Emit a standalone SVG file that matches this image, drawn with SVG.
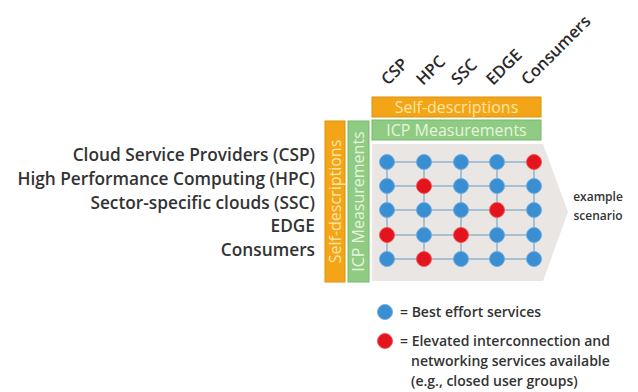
<svg xmlns="http://www.w3.org/2000/svg" width="638" height="392" viewBox="0 0 638 392">
<style>
.lbl{font-family:"Open Sans","Noto Sans",sans-serif;font-size:17.3px;fill:#333;text-anchor:end;font-weight:600}
.hdr{font-family:"Open Sans","Noto Sans",sans-serif;font-size:16.5px;fill:#2a2a2a;font-weight:600}
.bar{font-family:"Open Sans","Noto Sans",sans-serif;font-size:16px;text-anchor:middle}
.or{fill:#F3A517;stroke:#D9920E;stroke-width:1}
.gr{fill:#8FCB82;stroke:#76B96A;stroke-width:1}
.ort{fill:#FFE6A6}
.grt{fill:#E6F4DE}
.b{fill:#3A8ED2;stroke:#6FAEE0;stroke-width:1}
.r{fill:#E3141C;stroke:#F0585C;stroke-width:1}
.ln{stroke:#A8C0D2;stroke-width:2;fill:none}
.leg{font-family:"Open Sans","Noto Sans",sans-serif;font-size:14px;fill:#333;font-weight:600}
.sc{font-family:"Open Sans","Noto Sans",sans-serif;font-size:12px;fill:#333;font-weight:600;text-anchor:middle}
</style>
<rect width="638" height="392" fill="#fff"/>
<g id="row-labels">
<text class="lbl" x="315" y="161">Cloud Service Providers (CSP)</text>
<text class="lbl" x="315" y="185">High Performance Computing (HPC)</text>
<text class="lbl" x="315" y="209">Sector-specific clouds (SSC)</text>
<text class="lbl" x="315" y="232">EDGE</text>
<text class="lbl" x="315" y="256">Consumers</text>
</g>
<g id="col-headers">
<text class="hdr" transform="translate(388,86) rotate(-45)">CSP</text>
<text class="hdr" transform="translate(423,86) rotate(-45)">HPC</text>
<text class="hdr" transform="translate(458,86) rotate(-45)">SSC</text>
<text class="hdr" transform="translate(493,86) rotate(-45)">EDGE</text>
<text class="hdr" transform="translate(528,86) rotate(-45)">Consumers</text>
</g>
<g id="bar-self-h"><rect class="or" x="372" y="97" width="169" height="20"/><text class="bar ort" x="456.5" y="112.5">Self-descriptions</text></g>
<g id="bar-icp-h"><rect class="gr" x="372" y="120" width="169" height="20"/><text class="bar grt" x="456.5" y="135.5">ICP Measurements</text></g>
<g id="bar-self-v"><rect class="or" x="325" y="121" width="20" height="161"/><text class="bar ort" transform="translate(340.5,201.5) rotate(-90)">Self-descriptions</text></g>
<g id="bar-icp-v"><rect class="gr" x="348" y="121" width="21" height="161"/><text class="bar grt" transform="translate(364,201.5) rotate(-90)">ICP Measurements</text></g>
<g id="scenario-area"><polygon points="372,144 543,144 568,212 543,281 372,281" fill="#EAE6E4"/></g>
<g id="connectors">
<line class="ln" x1="387" y1="162" x2="534" y2="162"/>
<line class="ln" x1="387" y1="186" x2="534" y2="186"/>
<line class="ln" x1="387" y1="210" x2="534" y2="210"/>
<line class="ln" x1="387" y1="235" x2="534" y2="235"/>
<line class="ln" x1="387" y1="259" x2="534" y2="259"/>
<line class="ln" x1="387" y1="162" x2="387" y2="259"/>
<line class="ln" x1="424" y1="162" x2="424" y2="259"/>
<line class="ln" x1="461" y1="162" x2="461" y2="259"/>
<line class="ln" x1="497" y1="162" x2="497" y2="259"/>
<line class="ln" x1="534" y1="162" x2="534" y2="259"/>
</g>
<g id="nodes">
<circle class="b" cx="387" cy="162" r="7.5"/><circle class="b" cx="424" cy="162" r="7.5"/><circle class="b" cx="461" cy="162" r="7.5"/><circle class="b" cx="497" cy="162" r="7.5"/><circle class="r" cx="534" cy="162" r="7.5"/>
<circle class="b" cx="387" cy="186" r="7.5"/><circle class="r" cx="424" cy="186" r="7.5"/><circle class="b" cx="461" cy="186" r="7.5"/><circle class="b" cx="497" cy="186" r="7.5"/><circle class="b" cx="534" cy="186" r="7.5"/>
<circle class="b" cx="387" cy="210" r="7.5"/><circle class="b" cx="424" cy="210" r="7.5"/><circle class="b" cx="461" cy="210" r="7.5"/><circle class="r" cx="497" cy="210" r="7.5"/><circle class="b" cx="534" cy="210" r="7.5"/>
<circle class="r" cx="387" cy="235" r="7.5"/><circle class="b" cx="424" cy="235" r="7.5"/><circle class="r" cx="461" cy="235" r="7.5"/><circle class="b" cx="497" cy="235" r="7.5"/><circle class="b" cx="534" cy="235" r="7.5"/>
<circle class="b" cx="387" cy="259" r="7.5"/><circle class="r" cx="424" cy="259" r="7.5"/><circle class="b" cx="461" cy="259" r="7.5"/><circle class="b" cx="497" cy="259" r="7.5"/><circle class="b" cx="534" cy="259" r="7.5"/>
</g>
<g id="scenario-label">
<text class="sc" x="598" y="201">example</text>
<text class="sc" x="598" y="220">scenario</text>
</g>
<g id="legend">
<circle class="b" cx="385" cy="312" r="7.5"/>
<text class="leg" x="400" y="317">= Best effort services</text>
<circle class="r" cx="385" cy="341" r="7.5"/>
<text class="leg" x="400" y="346">= Elevated interconnection and</text>
<text class="leg" x="411" y="366">networking services available</text>
<text class="leg" x="411" y="386">(e.g., closed user groups)</text>
</g>
</svg>
